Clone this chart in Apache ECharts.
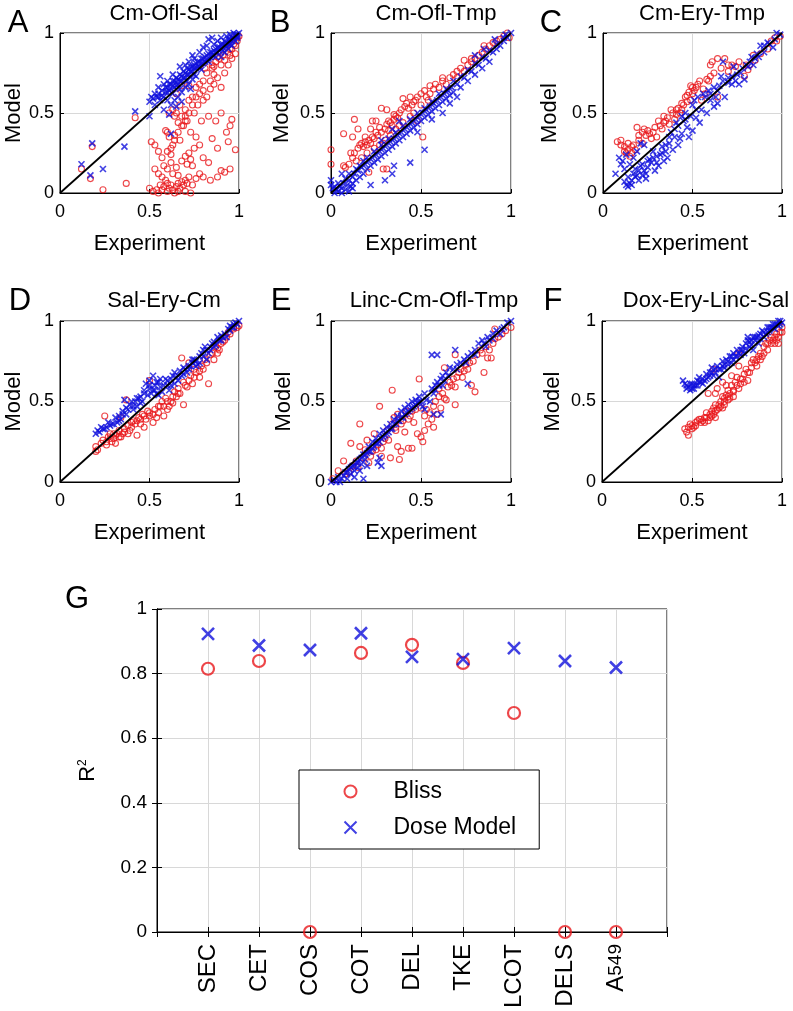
<!DOCTYPE html>
<html>
<head>
<meta charset="utf-8">
<script src="https://cdn.jsdelivr.net/npm/echarts@6/dist/echarts.min.js"></script>
<style>
  html, body { margin: 0; padding: 0; background: #fff; }
  #main { width: 793px; height: 1011px; }
</style>
</head>
<body>
<div id="main"></div>
<script>
// points: [experiment, model]
const aBliss = [
  [.12,.15],[.17,.09],[.18,.29],[.24,.02],[.37,.06],[.42,.47],
  [.5,.03],[.52,.01],[.54,.02],[.55,.0],[.57,.02],[.58,.04],[.6,.01],[.61,.03],[.62,.05],[.63,.02],[.64,.0],[.65,.04],
  [.66,.06],[.67,.03],[.68,.07],[.69,.05],[.7,.08],[.71,.06],[.72,.1],[.7,.01],[.73,.0],[.6,.06],[.56,.05],[.59,.08],
  [.66,.01],[.74,.05],[.76,.09],[.8,.1],[.84,.08],[.88,.1],[.92,.13],[.95,.15],[.78,.12],
  [.51,.32],[.53,.3],[.55,.26],[.57,.22],[.58,.17],[.6,.15],[.62,.19],[.63,.12],[.65,.16],[.66,.11],[.68,.2],[.7,.23],
  [.71,.18],[.72,.25],[.73,.21],[.74,.17],[.75,.28],[.63,.3],[.64,.36],[.6,.38],[.59,.39],[.61,.35],[.62,.24],[.67,.33],
  [.69,.42],[.71,.45],[.73,.38],[.76,.35],[.78,.3],[.8,.22],[.83,.19],[.85,.34],[.88,.28],[.9,.14],[.93,.38],[.95,.42],
  [.98,.27],[.55,.12],[.57,.1],[.53,.15],
  [.65,.5],[.67,.55],[.68,.48],[.7,.52],[.72,.58],[.74,.6],[.75,.5],[.77,.55],[.78,.62],[.8,.58],[.82,.6],[.84,.65],
  [.86,.68],[.88,.72],[.9,.66],[.92,.75],[.94,.8],[.96,.84],[.98,.87],[.99,.95],[.95,.9],[.86,.79],[.8,.7],[.76,.66],
  [.72,.67],[.7,.45],[.66,.44],[.64,.48],[.63,.52],[.61,.5],[.96,.46],[.94,.32],[.9,.5],[.87,.45],[.83,.48],[.79,.45],
  [.81,.78],[.85,.8],[.88,.85],[.9,.88],[.93,.93],[.97,.97],[.68,.67],[.65,.62],
  [.82,.75],[.85,.78],[.87,.82],[.89,.84],[.91,.86],[.92,.83],[.94,.88],[.95,.86],[.96,.9],[.97,.93],[.98,.92],[.99,.97],
  [1,.98],[.9,.8],[.86,.74],[.84,.7],[.8,.64],[.78,.68],[.76,.6],[.74,.55],[.72,.5],[.7,.48],[.68,.42],[.66,.38],
  [.64,.33],[.62,.28],[.6,.26]
];
const aDose = [
  [.12,.18],[.18,.31],[.17,.11],[.24,.15],[.36,.29],[.42,.51],[.5,.48],[.62,.37],[.61,.49],[.56,.73],
  [.5,.57],[.52,.59],[.53,.55],[.54,.6],[.55,.62],[.56,.58],[.57,.64],[.58,.6],[.59,.66],[.6,.63],[.61,.68],[.62,.65],
  [.63,.7],[.64,.66],[.65,.72],[.66,.68],[.67,.74],[.68,.7],[.69,.76],[.7,.72],[.71,.78],[.72,.74],[.73,.79],[.74,.76],
  [.75,.8],[.76,.78],[.77,.82],[.78,.79],[.79,.84],[.8,.81],[.81,.85],[.82,.83],[.83,.87],[.84,.85],[.85,.88],[.86,.86],
  [.87,.9],[.88,.88],[.89,.91],[.9,.9],[.91,.93],[.92,.92],[.93,.94],[.94,.93],[.95,.96],[.96,.95],[.97,.97],[.98,.98],
  [.99,.99],[1,1],[.83,.96],[.85,.97],[.78,.88],[.8,.91],[.68,.63],[.7,.66],[.72,.68],[.74,.71],[.76,.73],[.62,.55],
  [.64,.58],[.66,.6],[.58,.52],[.65,.67],[.75,.84],[.6,.7],[.63,.74],[.67,.79],[.72,.82],[.88,.95],[.9,.97],[.93,.98],
  [.95,.99],[.97,1],[.58,.68],[.55,.66],[.7,.8],[.74,.86],[.82,.92],[.86,.93],[.9,.85],[.92,.88],[.94,.9],[.96,.92],
  [.98,.95],[.65,.54],[.68,.57],[.73,.65],
  [.51,.6],[.53,.62],[.55,.6],[.57,.61],[.59,.63],[.6,.66],[.61,.64],[.62,.68],[.63,.67],[.64,.7],[.65,.69],[.66,.71],
  [.67,.7],[.68,.73],[.69,.72],[.7,.75],[.71,.74],[.72,.77],[.73,.76],[.74,.79],[.75,.78],[.76,.81],[.77,.79],[.78,.82],
  [.79,.81],[.8,.84],[.81,.82],[.82,.86],[.83,.84],[.84,.88],[.85,.86],[.86,.89],[.87,.88],[.88,.91],[.89,.89],[.9,.93],
  [.91,.91],[.92,.95],[.93,.92],[.94,.96],[.95,.94],[.96,.97],[.97,.96],[.98,.99],[.99,.98],[.6,.58],[.63,.62],[.67,.65],
  [.71,.7],[.75,.74],[.79,.77],[.83,.82],[.87,.85],[.91,.89],[.95,.93],[.99,.97]
];
const bBliss = [
  [0,.27],[0,.18],[.07,.37],[.12,.35],[.13,.46],[.23,.45],[.28,.53],[.31,.52],[.35,.49],[.4,.59],[.44,.6],[.46,.57],
  [.55,.67],[.62,.72],[.7,.76],[.74,.83],[.78,.84],[.85,.92],[.99,.97],[.51,.35],[.29,.15],[.31,.15],[.21,.13],[.07,.17],
  [.12,.22],[.13,.25],[.15,.28],[.16,.3],[.17,.31],[.18,.29],[.19,.32],[.2,.3],[.21,.33],[.22,.31],[.23,.35],[.24,.34],
  [.14,.2],[.1,.18],[.08,.16],[.11,.25],[.25,.38],[.26,.36],[.27,.41],[.28,.38],[.3,.4],[.31,.43],[.32,.45],[.33,.44],
  [.34,.42],[.35,.46],[.36,.48],[.37,.47],[.38,.5],[.39,.52],[.41,.54],[.42,.56],[.43,.53],[.45,.55],[.47,.58],[.48,.6],
  [.5,.62],[.52,.64],[.53,.6],[.55,.62],[.57,.65],[.58,.68],[.6,.66],[.62,.7],[.64,.68],[.66,.72],[.68,.74],[.7,.72],
  [.72,.78],[.74,.76],[.76,.8],[.78,.82],[.8,.84],[.82,.86],[.84,.88],[.86,.9],[.88,.92],[.9,.94],[.92,.95],[.94,.96],
  [.96,.98],[.98,1],[.29,.31],[.33,.36],[.36,.4],[.4,.44],[.44,.48],[.2,.25],[.17,.22],[.24,.28],[.22,.4],[.25,.45],
  [.3,.33],[.27,.3],[.19,.35],[.15,.4],[.32,.39],[.38,.42],[.46,.5],[.5,.55],[.54,.58],[.48,.45]
];
const bDose = [
  [0,.08],[0,.05],[.01,.03],[.02,.0],[.03,.02],[.04,.01],[.05,.04],[.06,.03],[.07,.06],[.08,.02],[.09,.05],[.1,.08],
  [.1,.01],[.11,.04],[.12,.1],[.12,.03],[.13,.12],[.14,.08],[.15,.14],[.16,.1],[.17,.16],[.18,.12],[.19,.18],[.2,.15],
  [.21,.2],[.22,.17],[.22,.05],[.23,.22],[.24,.19],[.25,.24],[.26,.21],[.27,.26],[.28,.23],[.29,.28],[.3,.25],[.3,.08],
  [.31,.3],[.32,.27],[.33,.32],[.34,.29],[.35,.34],[.36,.31],[.37,.36],[.38,.33],[.39,.38],[.4,.35],[.41,.4],[.42,.37],
  [.43,.42],[.44,.39],[.44,.19],[.45,.44],[.46,.41],[.47,.46],[.48,.43],[.49,.48],[.5,.45],[.51,.5],[.52,.27],[.52,.47],
  [.53,.52],[.54,.49],[.55,.54],[.56,.51],[.57,.56],[.58,.53],[.59,.58],[.6,.55],[.61,.6],[.62,.57],[.63,.62],[.64,.59],
  [.65,.64],[.66,.61],[.67,.66],[.68,.63],[.7,.68],[.72,.66],[.74,.72],[.76,.7],[.78,.76],[.8,.74],[.82,.8],[.84,.78],
  [.86,.84],[.88,.82],[.9,.88],[.92,.9],[.94,.92],[.96,.95],[.98,.97],[1,1],[.97,.99],[.91,.96],[.85,.9],[.8,.86],
  [.34,.4],[.28,.33],[.38,.45],[.06,.12],[.35,.17],[.34,.12],[.48,.38],[.56,.46],[.62,.5],[.66,.56],[.7,.6],
  [.02,.04],[.04,.06],[.06,.0],[.08,.09],[.1,.12],[.12,.06],[.14,.15],[.16,.17],[.18,.2],[.2,.22],[.24,.26],[.28,.3],
  [.32,.34],[.36,.38],[.4,.42],[.44,.46],[.48,.5],[.52,.53],[.56,.57],[.6,.62],[.64,.65],[.68,.7],[.72,.73],[.76,.77],
  [.8,.81],[.84,.85],[.88,.89],[.92,.93],[.96,.97]
];
const cBliss = [
  [.08,.32],[.1,.33],[.12,.26],[.14,.31],[.16,.29],[.19,.41],[.22,.38],[.23,.4],[.24,.36],[.22,.31],[.29,.41],[.3,.35],
  [.31,.45],[.34,.48],[.38,.52],[.41,.49],[.44,.56],[.46,.6],[.49,.67],[.51,.64],[.49,.58],[.58,.71],[.61,.82],[.62,.75],
  [.68,.84],[.7,.76],[.64,.6],[.81,.77],[.82,.8],[.85,.83],[.96,.97],[.99,.98],[.74,.79],[.79,.73],
  [.13,.25],[.15,.23],[.17,.3],[.18,.27],[.2,.33],[.26,.37],[.27,.34],[.32,.42],[.33,.4],[.35,.45],[.36,.47],[.37,.43],
  [.39,.5],[.4,.46],[.42,.53],[.43,.5],[.45,.55],[.47,.61],[.48,.63],[.5,.62],[.52,.66],[.53,.68],[.55,.58],[.57,.62],
  [.59,.7],[.6,.73],[.66,.78],[.72,.8],[.76,.82],[.88,.87],[.92,.9],[.94,.95],
  [.1,.3],[.12,.29],[.14,.27],[.16,.25],[.2,.36],[.25,.39],[.28,.38],[.34,.44],[.41,.52],[.44,.52],[.47,.57],[.5,.66],
  [.54,.7],[.56,.65],[.6,.8],[.64,.84],[.7,.8],[.8,.8],[.84,.86],[.97,.95]
];
const cDose = [
  [.07,.12],[.12,.07],[.14,.04],[.16,.05],[.18,.1],[.2,.14],[.22,.18],[.24,.12],[.25,.16],[.29,.14],[.3,.23],[.33,.29],
  [.34,.2],[.35,.26],[.37,.31],[.38,.38],[.4,.35],[.41,.44],[.43,.34],[.44,.37],[.45,.45],[.46,.5],[.47,.41],[.49,.48],
  [.51,.58],[.53,.6],[.54,.44],[.55,.52],[.59,.64],[.6,.58],[.62,.54],[.64,.56],[.65,.67],[.66,.73],[.67,.82],[.7,.69],
  [.72,.73],[.73,.79],[.77,.75],[.79,.71],[.81,.79],[.83,.85],[.86,.87],[.88,.92],[.92,.94],[.95,.91],[.97,1],[.99,.99],
  [.09,.22],[.11,.2],[.13,.24],[.15,.18],[.17,.22],[.19,.26],[.21,.31],[.23,.3],[.26,.21],[.27,.19],[.28,.26],[.31,.17],
  [.32,.24],[.36,.22],[.39,.27],[.42,.3],[.48,.35],[.5,.39],[.52,.47],[.56,.62],[.58,.5],[.63,.6],[.68,.6],[.74,.7],
  [.76,.68],[.78,.78],[.84,.8],[.9,.88],[.14,.1],[.16,.08],[.18,.15],[.2,.08],[.22,.11],[.24,.09],[.12,.15],
  [.1,.18],[.13,.05],[.15,.06],[.17,.12],[.19,.11],[.21,.17],[.23,.14],[.25,.2],[.28,.22],[.3,.19],[.33,.25],[.35,.3],
  [.37,.35],[.4,.4],[.42,.42],[.44,.48],[.46,.46],[.5,.55],[.52,.52],[.57,.6],[.6,.62],[.62,.66],[.64,.64],[.67,.7],
  [.7,.72],[.72,.68],[.75,.74],[.8,.8],[.82,.82],[.85,.84],[.87,.85],[.9,.92],[.93,.93],[.96,.96]
];
const dBliss = [
  [.2,.19],[.2,.22],[.25,.41],[.26,.23],[.29,.25],[.31,.24],[.34,.28],[.36,.31],[.37,.51],[.4,.34],[.43,.29],[.45,.36],
  [.47,.34],[.48,.39],[.5,.63],[.52,.37],[.54,.4],[.58,.41],[.6,.45],[.61,.47],[.63,.49],[.65,.53],[.68,.77],[.69,.48],
  [.71,.59],[.74,.61],[.75,.65],[.78,.65],[.83,.61],[.8,.7],[.86,.76],[.88,.8],[.89,.82],[.93,.9],[.99,.96],[1,.97],[.72,.74],
  [.23,.24],[.27,.28],[.3,.27],[.32,.3],[.33,.32],[.35,.3],[.38,.35],[.39,.32],[.41,.38],[.42,.36],[.44,.4],[.46,.42],
  [.49,.44],[.5,.41],[.53,.45],[.55,.43],[.56,.47],[.57,.5],[.59,.52],[.62,.5],[.64,.56],[.66,.58],[.67,.55],[.7,.6],
  [.73,.66],[.76,.68],[.79,.72],[.82,.74],[.84,.79],[.87,.84],[.9,.86],[.92,.88],[.95,.92],[.97,.95],[.34,.4],[.31,.29],[.28,.3],
  [.21,.2],[.24,.26],[.26,.25],[.28,.27],[.3,.3],[.33,.28],[.36,.33],[.38,.3],[.4,.37],[.43,.38],[.45,.39],[.47,.41],
  [.5,.43],[.52,.42],[.55,.47],[.58,.47],[.6,.5],[.63,.53],[.66,.55],[.69,.62],[.72,.63],[.75,.7],[.78,.69],[.81,.76],
  [.85,.8],[.88,.83],[.91,.87],[.94,.93],[.97,.96]
];
const dDose = [
  [.2,.3],[.22,.31],[.26,.34],[.3,.36],[.34,.39],[.36,.51],[.37,.42],[.41,.47],[.45,.53],[.47,.55],[.48,.61],[.52,.57],
  [.54,.55],[.56,.59],[.6,.63],[.61,.57],[.64,.61],[.65,.65],[.69,.67],[.72,.72],[.74,.74],[.76,.72],[.78,.78],[.8,.82],
  [.82,.76],[.84,.82],[.86,.84],[.89,.88],[.91,.9],[.95,.94],[.97,.98],[1,1],
  [.24,.33],[.28,.35],[.32,.37],[.33,.41],[.35,.44],[.38,.45],[.39,.48],[.42,.5],[.43,.47],[.44,.52],[.46,.5],[.5,.58],
  [.51,.55],[.53,.6],[.55,.62],[.57,.56],[.58,.6],[.59,.64],[.62,.6],[.63,.66],[.66,.63],[.67,.69],[.68,.66],[.7,.7],
  [.71,.68],[.73,.72],[.75,.76],[.77,.73],[.79,.8],[.81,.84],[.83,.8],[.85,.86],[.87,.85],[.88,.9],[.9,.88],[.92,.92],
  [.93,.9],[.94,.95],[.96,.96],[.98,.99],[.52,.66],[.5,.6],[.55,.54],
  [.21,.32],[.23,.34],[.25,.33],[.27,.37],[.29,.36],[.31,.4],[.33,.38],[.35,.42],[.37,.46],[.4,.5],[.41,.45],[.43,.52],
  [.45,.49],[.47,.57],[.49,.54],[.5,.63],[.53,.57],[.54,.62],[.56,.64],[.6,.6],[.62,.64],[.64,.68],[.66,.66],[.69,.71],
  [.72,.7],[.74,.76],[.76,.75],[.78,.74],[.8,.78],[.82,.82],[.84,.84],[.86,.87],[.9,.91],[.95,.97],[.97,.96],[.99,.98]
];
const eBliss = [
  [.04,.07],[.07,.13],[.11,.24],[.16,.36],[.16,.22],[.2,.26],[.24,.3],[.27,.47],[.28,.21],[.28,.16],[.34,.57],[.34,.36],
  [.36,.32],[.37,.22],[.38,.14],[.39,.19],[.41,.31],[.43,.21],[.45,.21],[.49,.64],[.5,.28],[.51,.25],[.52,.32],[.54,.36],
  [.56,.39],[.57,.34],[.59,.42],[.61,.46],[.63,.71],[.64,.51],[.65,.59],[.69,.48],[.69,.59],[.7,.65],[.74,.69],[.76,.7],
  [.78,.6],[.8,.56],[.81,.79],[.85,.68],[.87,.77],[.89,.77],[.91,.89],[1,.96],[.91,.95],[.69,.79],
  [.08,.05],[.12,.1],[.15,.09],[.18,.15],[.21,.12],[.23,.19],[.26,.23],[.3,.27],[.32,.26],[.33,.15],[.35,.4],[.37,.42],
  [.4,.38],[.42,.44],[.44,.41],[.46,.37],[.47,.45],[.48,.3],[.53,.45],[.55,.43],[.58,.5],[.6,.53],[.62,.55],[.66,.62],
  [.68,.64],[.71,.68],[.73,.65],[.75,.73],[.79,.75],[.83,.82],[.86,.84],[.9,.86],[.93,.9],[.97,.94],[.01,.02],[.1,.06],[.14,.13],
  [.19,.2],[.22,.16],[.25,.2],[.29,.25],[.31,.32],[.36,.34],[.39,.36],[.43,.39],[.45,.44],[.5,.46],[.52,.41],[.57,.47],
  [.6,.58],[.63,.52],[.67,.6],[.72,.7],[.77,.74],[.84,.8],[.88,.82],[.95,.92]
];
const eDose = [
  [0,0],[.02,.01],[.04,.03],[.05,.0],[.07,.04],[.08,.06],[.1,.08],[.11,.05],[.12,.1],[.13,.07],[.14,.12],[.15,.09],
  [.16,.14],[.17,.11],[.18,.17],[.19,.14],[.2,.18],[.21,.22],[.22,.19],[.23,.25],[.24,.22],[.25,.27],[.26,.24],[.27,.3],
  [.28,.27],[.29,.32],[.3,.29],[.31,.34],[.32,.31],[.33,.36],[.34,.33],[.35,.39],[.36,.36],[.37,.41],[.38,.38],[.39,.44],
  [.4,.4],[.41,.46],[.42,.43],[.43,.48],[.44,.45],[.45,.5],[.46,.47],[.47,.51],[.48,.49],[.49,.53],[.5,.5],[.51,.47],
  [.52,.55],[.53,.51],[.57,.42],[.61,.42],[.56,.58],[.57,.55],[.58,.6],[.59,.62],[.6,.6],[.61,.64],[.62,.66],[.63,.63],
  [.64,.68],[.66,.71],[.68,.7],[.7,.73],[.72,.74],[.74,.76],[.76,.78],[.78,.8],[.8,.82],[.82,.86],[.84,.88],[.86,.84],
  [.88,.88],[.9,.92],[.92,.94],[.94,.92],[.96,.96],[.98,.99],[1,1],[.56,.79],[.59,.79],[.69,.82],[.76,.61],[.87,.9],
  [.16,.07],[.18,.02],[.26,.12],[.27,.15],[.28,.1],[.2,.1],[.13,.03],[.09,.02],
  [.03,.0],[.06,.02],[.09,.06],[.11,.09],[.13,.1],[.15,.12],[.17,.15],[.19,.17],[.21,.19],[.23,.21],[.25,.24],[.27,.25],
  [.29,.28],[.31,.3],[.33,.33],[.35,.36],[.37,.38],[.39,.4],[.41,.42],[.43,.44],[.45,.46],[.47,.48],[.49,.5],[.52,.45],
  [.55,.5],[.58,.57],[.62,.6],[.65,.66],[.7,.7],[.75,.74],[.8,.79],[.85,.86],[.9,.89],[.95,.95]
];
const fBliss = [
  [.46,.33],[.48,.29],[.47,.31],[.5,.35],[.53,.38],[.55,.37],[.59,.38],[.6,.4],[.62,.42],[.63,.55],[.65,.46],[.67,.53],
  [.68,.48],[.7,.51],[.71,.55],[.73,.57],[.75,.65],[.77,.61],[.79,.67],[.81,.63],[.83,.71],[.84,.76],[.86,.72],[.88,.8],
  [.9,.84],[.92,.82],[.94,.86],[.96,.9],[.98,.86],[.99,.93],[1,.96],[.62,.7],[.76,.8],
  [.49,.36],[.51,.34],[.52,.37],[.54,.39],[.56,.38],[.57,.37],[.58,.4],[.61,.44],[.62,.46],[.63,.48],[.64,.45],[.66,.5],
  [.67,.46],[.68,.52],[.69,.54],[.7,.57],[.72,.6],[.73,.53],[.74,.62],[.76,.58],[.78,.64],[.8,.7],[.82,.68],[.85,.74],
  [.87,.78],[.89,.78],[.91,.86],[.93,.88],[.95,.88],[.97,.92],[.59,.55],[.64,.58],[.67,.62],[.69,.6],[.72,.66],[.76,.72],
  [.63,.4],[.58,.43],
  [.48,.34],[.5,.33],[.52,.35],[.55,.39],[.57,.4],[.6,.42],[.61,.41],[.63,.44],[.65,.48],[.66,.47],[.68,.5],[.7,.53],
  [.71,.52],[.73,.56],[.75,.6],[.77,.64],[.79,.62],[.81,.68],[.83,.74],[.86,.76],[.88,.76],[.9,.8],[.92,.86],[.94,.9],
  [.96,.86],[.98,.9],[1,.93],[.97,.88]
];
const fDose = [
  [.45,.63],[.48,.59],[.49,.61],[.51,.6],[.53,.63],[.54,.65],[.56,.61],[.59,.65],[.61,.71],[.63,.7],[.65,.65],[.68,.73],
  [.7,.73],[.71,.78],[.73,.76],[.75,.82],[.77,.82],[.81,.88],[.83,.88],[.84,.9],[.88,.92],[.92,.96],[.95,.98],[.99,1],[.81,.9],
  [.46,.61],[.47,.58],[.5,.58],[.52,.6],[.55,.62],[.57,.63],[.58,.67],[.6,.68],[.62,.66],[.64,.72],[.66,.7],[.67,.75],
  [.69,.76],[.72,.74],[.74,.78],[.76,.8],[.78,.84],[.79,.8],[.8,.86],[.82,.84],[.85,.88],[.86,.9],[.87,.86],[.89,.94],
  [.9,.9],[.91,.92],[.93,.94],[.94,.96],[.96,.95],[.97,.98],[.98,.97],[1,.99],[.84,.82],
  [.47,.6],[.49,.57],[.5,.61],[.51,.58],[.53,.6],[.54,.62],[.56,.64],[.58,.64],[.6,.66],[.61,.68],[.63,.68],[.65,.7],
  [.67,.72],[.68,.71],[.7,.75],[.72,.78],[.73,.8],[.75,.78],[.77,.79],[.78,.82],[.8,.83],[.82,.87],[.83,.85],[.85,.9],
  [.87,.91],[.88,.89],[.9,.93],[.92,.93],[.93,.96],[.95,.96],[.96,.98],[.98,1],[.99,.98]
];

const gCategories = ['SEC', 'CET', 'COS', 'COT', 'DEL', 'TKE', 'LCOT', 'DELS', 'A549'];
const gBliss = [0.815, 0.839, 0, 0.864, 0.889, 0.833, 0.678, 0, 0];
const gDose = [0.923, 0.887, 0.873, 0.925, 0.852, 0.845, 0.879, 0.839, 0.819];

const RED = '#e8181b';
const BLUE = '#1010dc';
const FONT = '"Liberation Sans", Arial, Helvetica, sans-serif';
const CROSS = 'path://M0,0L10,10M10,0L0,10';

const panels = [
  { letter: 'A', title: 'Cm-Ofl-Sal', bliss: aBliss, dose: aDose, box: [60, 33, 179, 160], titleX: 164, titleY: 14, letterX: 18, letterY: 23, nameGap: 30 },
  { letter: 'B', title: 'Cm-Ofl-Tmp', bliss: bBliss, dose: bDose, box: [331, 33, 180, 160], titleX: 436, titleY: 14, letterX: 280, letterY: 23, nameGap: 38 },
  { letter: 'C', title: 'Cm-Ery-Tmp', bliss: cBliss, dose: cDose, box: [603, 33, 179, 160], titleX: 702, titleY: 14, letterX: 551, letterY: 23, nameGap: 42 },
  { letter: 'D', title: 'Sal-Ery-Cm', bliss: dBliss, dose: dDose, box: [60, 321, 179, 161], titleX: 164, titleY: 301, letterX: 20, letterY: 301, nameGap: 29 },
  { letter: 'E', title: 'Linc-Cm-Ofl-Tmp', bliss: eBliss, dose: eDose, box: [331, 321, 180, 161], titleX: 434, titleY: 301, letterX: 281, letterY: 301, nameGap: 36 },
  { letter: 'F', title: 'Dox-Ery-Linc-Sal', bliss: fBliss, dose: fDose, box: [602, 321, 180, 161], titleX: 706, titleY: 301, letterX: 553, letterY: 301, nameGap: 38 }
];

const grids = [], xAxes = [], yAxes = [], series = [], graphics = [];

function txt(x, y, text, size) {
  return { type: 'text', x: x, y: y, silent: true,
    style: { text: text, fill: '#000', fontSize: size, fontFamily: FONT, align: 'center', verticalAlign: 'middle' } };
}

panels.forEach(function (p, i) {
  grids.push({ left: p.box[0], top: p.box[1], width: p.box[2], height: p.box[3],
    show: true, borderColor: '#000', borderWidth: 1, backgroundColor: '#fff' });
  xAxes.push({ gridIndex: i, type: 'value', min: 0, max: 1, interval: 0.5,
    name: 'Experiment', nameLocation: 'middle', nameGap: 40,
    nameTextStyle: { fontSize: 22, fontFamily: FONT, color: '#000' },
    axisLine: { lineStyle: { color: '#000' } },
    axisTick: { inside: true, length: 4, lineStyle: { color: '#000' } },
    axisLabel: { fontSize: 18, fontFamily: FONT, color: '#000', margin: 10 },
    splitLine: { lineStyle: { color: '#d8d8d8' } } });
  yAxes.push({ gridIndex: i, type: 'value', min: 0, max: 1, interval: 0.5,
    name: 'Model', nameLocation: 'middle', nameGap: p.nameGap,
    nameTextStyle: { fontSize: 22, fontFamily: FONT, color: '#000' },
    axisLine: { lineStyle: { color: '#000' } },
    axisTick: { inside: true, length: 4, lineStyle: { color: '#000' } },
    axisLabel: { fontSize: 18, fontFamily: FONT, color: '#000', margin: 6 },
    splitLine: { lineStyle: { color: '#d8d8d8' } } });
  series.push({ type: 'scatter', name: p.letter + ' Bliss', xAxisIndex: i, yAxisIndex: i,
    data: p.bliss, symbol: 'circle', symbolSize: 6, clip: false, silent: true, z: 2,
    itemStyle: { color: 'none', borderColor: RED, borderWidth: 1.1 } });
  series.push({ type: 'scatter', name: p.letter + ' Dose', xAxisIndex: i, yAxisIndex: i,
    data: p.dose, symbol: CROSS, symbolSize: 6, clip: false, silent: true, z: 3,
    itemStyle: { color: 'none', borderColor: BLUE, borderWidth: 1.6 } });
  series.push({ type: 'line', xAxisIndex: i, yAxisIndex: i, data: [[0, 0], [1, 1]],
    symbol: 'none', silent: true, z: 4, lineStyle: { color: '#000', width: 1.8 } });
  graphics.push(txt(p.titleX, p.titleY, p.title, 22));
  graphics.push(txt(p.letterX, p.letterY, p.letter, 31));
});

// panel G
grids.push({ left: 157, top: 609, width: 510, height: 323,
  show: true, borderColor: '#000', borderWidth: 1, backgroundColor: '#fff' });
const gTick = { inside: true, length: 5, lineStyle: { color: '#000' } };
xAxes.push({ gridIndex: 6, type: 'value', min: 0, max: 10, interval: 1,
  axisLine: { lineStyle: { color: '#000' } }, axisTick: gTick,
  axisLabel: { fontSize: 24, fontFamily: FONT, color: '#000', rotate: 90, margin: 12,
    formatter: function (v) {
      const c = gCategories[Math.round(v) - 1];
      if (!c) return '';
      return c === 'A549' ? '{a|A}{n|549}' : c;
    },
    rich: { a: { fontSize: 24, fontFamily: FONT, color: '#000' }, n: { fontSize: 19, fontFamily: FONT, color: '#000' } } },
  splitLine: { lineStyle: { color: '#d8d8d8' } } });
xAxes.push({ gridIndex: 6, type: 'value', position: 'top', min: 0, max: 10, interval: 1,
  axisLine: { lineStyle: { color: '#000' } }, axisTick: gTick,
  axisLabel: { show: false }, splitLine: { show: false } });
yAxes.push({ gridIndex: 6, type: 'value', min: 0, max: 1, interval: 0.2,
  name: '{r|R}{s|2}', nameLocation: 'middle', nameGap: 58,
  nameTextStyle: { rich: { r: { fontSize: 22, fontFamily: FONT, color: '#000' },
    s: { fontSize: 12, fontFamily: FONT, color: '#000', padding: [0, 0, 10, 0] } } },
  axisLine: { lineStyle: { color: '#000' } }, axisTick: gTick,
  axisLabel: { fontSize: 19, fontFamily: FONT, color: '#000', margin: 10 },
  splitLine: { lineStyle: { color: '#d8d8d8' } } });
yAxes.push({ gridIndex: 6, type: 'value', position: 'right', min: 0, max: 1, interval: 0.2,
  axisLine: { lineStyle: { color: '#000' } }, axisTick: gTick,
  axisLabel: { show: false }, splitLine: { show: false } });
series.push({ type: 'scatter', name: 'Bliss', xAxisIndex: 6, yAxisIndex: 6,
  data: gBliss.map(function (v, i) { return [i + 1, v]; }),
  symbol: 'circle', symbolSize: 12, clip: false, silent: true, z: 3,
  itemStyle: { color: 'none', borderColor: RED, borderWidth: 2.2 } });
series.push({ type: 'scatter', name: 'Dose Model', xAxisIndex: 6, yAxisIndex: 6,
  data: gDose.map(function (v, i) { return [i + 1, v]; }),
  symbol: CROSS, symbolSize: 12, clip: false, silent: true, z: 3,
  itemStyle: { color: 'none', borderColor: BLUE, borderWidth: 2.6 } });
graphics.push(txt(77, 599, 'G', 31));

const chart = echarts.init(document.getElementById('main'));
chart.setOption({
  animation: false,
  backgroundColor: '#fff',
  grid: grids,
  xAxis: xAxes,
  yAxis: yAxes,
  legend: {
    data: ['Bliss', 'Dose Model'], orient: 'vertical', left: 299, top: 770,
    padding: [10, 23, 10, 43], itemGap: 13, itemWidth: 76, itemHeight: 12,
    borderColor: '#000', borderWidth: 1, backgroundColor: '#fff', borderRadius: 0,
    selectedMode: false,
    textStyle: { fontSize: 23, fontFamily: FONT, color: '#000' }
  },
  graphic: graphics,
  series: series
});
</script>
</body>
</html>
